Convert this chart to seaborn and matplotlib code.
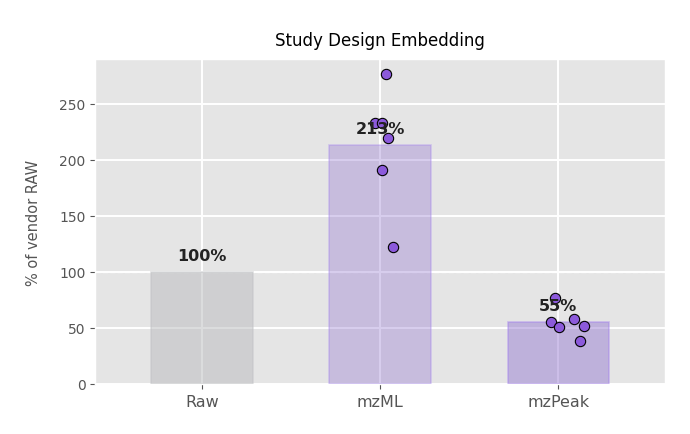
import numpy as np
import pandas as pd
import matplotlib
matplotlib.use("Agg")
import matplotlib.pyplot as plt
import seaborn as sns

# summary bars (% of vendor RAW)
formats = ["Raw", "mzML", "mzPeak"]
mean_pct = [100, 213, 55]

# per-study replicate values
mzml_pct = [276.7, 233.0, 233.0, 219.7, 191.3, 121.9]
mzpeak_pct = [76.5, 55.2, 50.7, 57.8, 51.6, 38.3]
# horizontal spread of the dots (category units)
mzml_dx = [0.03, -0.03, 0.01, 0.045, 0.01, 0.07]
mzpeak_dx = [-0.02, -0.04, 0.006, 0.09, 0.145, 0.12]

bar_colors = ["#b9bbbf", "#8a62df", "#8a62df"]
bar_alpha = [0.5, 0.35, 0.45]
edge_colors = ["#c2c3c6", "#a37ff0", "#a37ff0"]
dot_color = "#8c5adb"

plt.style.use("ggplot")
fig = plt.figure(figsize=(6.9, 4.35), dpi=100)
ax = fig.add_axes([0.138, 0.115, 0.826, 0.747])

df = pd.DataFrame({"format": formats, "pct": mean_pct})
sns.barplot(data=df, x="format", y="pct", hue="format", palette=bar_colors,
            width=0.57, legend=False, ax=ax, zorder=2)
for patch, a, ec in zip(ax.patches, bar_alpha, edge_colors):
    patch.set_alpha(a)
    patch.set_edgecolor(ec)
    patch.set_linewidth(1.2)

pts = pd.DataFrame({
    "x": [1 + d for d in mzml_dx] + [2 + d for d in mzpeak_dx],
    "y": mzml_pct + mzpeak_pct,
})
sns.scatterplot(data=pts, x="x", y="y", color=dot_color, edgecolor="black",
                linewidth=0.8, s=55, ax=ax, zorder=4)

ax.axhline(100, color="white", linestyle="--", linewidth=1, alpha=0.6, zorder=1.5)

for i, v in enumerate(mean_pct):
    ax.text(i, v + 8, f"{v}%", ha="center", va="bottom", fontsize=11.5,
            fontweight="bold", color="#222222", zorder=5)

ax.set_axisbelow(True)
ax.grid(True, axis="both", color="white", linewidth=1.4)
ax.set_xlim(-0.6, 2.6)
ax.set_ylim(0, 290)
ax.set_xticks(range(len(formats)))
ax.set_xticklabels(formats, fontsize=11.5)
ax.tick_params(axis="y", labelsize=10)
ax.set_xlabel("")
ax.set_ylabel("% of vendor RAW", fontsize=10.5, color="#555555", labelpad=13)
ax.set_title("Study Design Embedding", fontsize=12, color="black", pad=10)

fig.savefig("out.png", dpi=100)
